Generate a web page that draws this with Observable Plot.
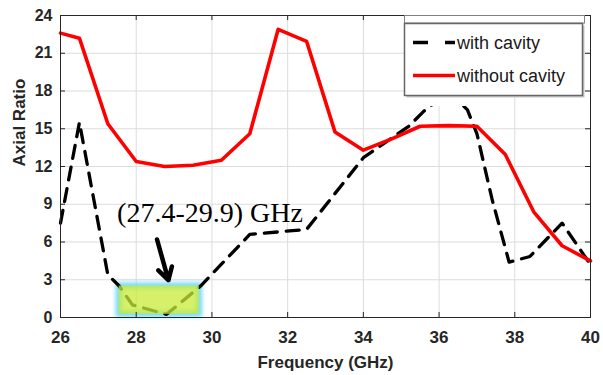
<!DOCTYPE html>
<html><head><meta charset="utf-8">
<script src="https://cdn.jsdelivr.net/npm/d3@7"></script>
<script src="https://cdn.jsdelivr.net/npm/@observablehq/plot@0.6"></script>
<style>body{margin:0;background:#fff}#chart{width:603px;height:375px}</style>
</head><body><div id="chart"></div>
<script>
// ---- data ----
const freqWith = [26.0, 26.5, 27.25, 27.55, 27.9, 28.8, 29.7, 31.0, 32.5, 34.0, 35.2, 35.6, 36.25, 36.75, 37.0, 37.4, 37.85, 38.4, 39.25, 40.0];
const arWith   = [7.5, 15.5, 3.4, 2.5, 1.0, 0.25, 2.5, 6.6, 7.0, 12.7, 15.2, 16.4, 18.0, 16.5, 14.6, 9.4, 4.4, 4.85, 7.5, 4.2];
const freqWithout = [26.0, 26.5, 27.25, 28.0, 28.75, 29.5, 30.25, 31.0, 31.75, 32.5, 33.25, 34.0, 34.75, 35.5, 36.25, 37.0, 37.75, 38.5, 39.25, 40.0];
const arWithout   = [22.6, 22.2, 15.4, 12.4, 12.0, 12.1, 12.5, 14.6, 22.9, 21.95, 14.75, 13.3, 14.2, 15.2, 15.25, 15.2, 12.95, 8.4, 5.7, 4.5];
const seriesNames = ["with cavity", "without cavity"];
const xTicks = [26, 28, 30, 32, 34, 36, 38, 40];
const yTicks = [0, 3, 6, 9, 12, 15, 18, 21, 24];
const bandX = [27.55, 29.67];
const bandY = [0.25, 2.5];
const bandLabel = ["(27.4-29.9) GHz"];
const bandLabelPos = [29.95, 7.6];
const arrowFrom = [28.55, 6.2];
const arrowTo = [28.85, 2.97];
const xLabel = "Frequency (GHz)";
const yLabel = "Axial Ratio";

// ---- tables ----
const withRows = freqWith.map((f, i) => ({f, ar: arWith[i]}));
const withoutRows = freqWithout.map((f, i) => ({f, ar: arWithout[i]}));
const bandRows = [{x1: bandX[0], x2: bandX[1], y1: bandY[0], y2: bandY[1]}];
const labelRows = bandLabel.map(t => ({x: bandLabelPos[0], y: bandLabelPos[1], t}));
const arrowRows = [{x1: arrowFrom[0], y1: arrowFrom[1], x2: arrowTo[0], y2: arrowTo[1]}];

const W = 603, H = 375, mL = 60, mR = 13, mT = 15, mB = 58;
const iw = W - mL - mR, ih = H - mT - mB;
const sans = "'Liberation Sans', Arial, Helvetica, sans-serif";
const axisColor = "#262626";
const bandFill = "#c8eb38";
const glowColor = "#6fd8f6";

const plot = Plot.plot({
  width: W, height: H,
  marginLeft: mL, marginRight: mR, marginTop: mT, marginBottom: mB,
  style: {fontFamily: sans, background: "#fff", color: axisColor},
  x: {domain: [26, 40]},
  y: {domain: [0, 24]},
  marks: [
    Plot.gridX(xTicks, {stroke: "#dcdcdc", strokeOpacity: 1}),
    Plot.gridY(yTicks, {stroke: "#dcdcdc", strokeOpacity: 1}),
    Plot.rect(bandRows, {x1: "x1", x2: "x2", y1: "y1", y2: "y2", fill: "none", stroke: glowColor, strokeWidth: 6}),
    Plot.line(withRows, {x: "f", y: "ar", stroke: "#000", strokeWidth: 3.3, strokeDasharray: "13,9"}),
    Plot.rect(bandRows, {x1: "x1", x2: "x2", y1: "y1", y2: "y2", fill: bandFill, fillOpacity: 0.75}),
    Plot.line(withoutRows, {x: "f", y: "ar", stroke: "#ff0000", strokeWidth: 3.6}),
    Plot.text(labelRows, {x: "x", y: "y", text: "t", fontFamily: "'Liberation Serif','Times New Roman',serif", fontSize: 28, lineAnchor: "bottom", textAnchor: "middle", fill: "#000"}),
    Plot.arrow(arrowRows, {x1: "x1", y1: "y1", x2: "x2", y2: "y2", stroke: "#000", strokeWidth: 4.5, headLength: 15, headAngle: 60}),
    Plot.frame({stroke: axisColor, strokeWidth: 1}),
    Plot.tickY(yTicks, {y: d => d, stroke: axisColor, insetRight: iw - 5}),
    Plot.tickY(yTicks, {y: d => d, stroke: axisColor, insetLeft: iw - 5}),
    Plot.tickX(xTicks, {x: d => d, stroke: axisColor, insetTop: ih - 5}),
    Plot.tickX(xTicks, {x: d => d, stroke: axisColor, insetBottom: ih - 5}),
    Plot.axisY({ticks: yTicks, tickSize: 0, tickPadding: 8, label: null, fontSize: 16, fontWeight: "bold", fill: axisColor}),
    Plot.axisX({ticks: xTicks, tickSize: 0, tickPadding: 13, label: null, fontSize: 17, fontWeight: "bold", fill: axisColor}),
    Plot.text([xLabel], {text: d => d, frameAnchor: "bottom", dy: 50, lineAnchor: "bottom", fontSize: 17, fontWeight: "bold", fill: axisColor}),
    Plot.text([yLabel], {text: d => d, frameAnchor: "left", dx: -41, rotate: -90, lineAnchor: "middle", fontSize: 17, fontWeight: "bold", fill: axisColor})
  ]
});

const svg = d3.select(plot);
// soft cyan glow around the highlighted band
svg.selectAll("g, rect").filter(function () { return this.getAttribute("stroke") === glowColor; })
  .style("filter", "blur(2px)");

// legend (inside the plot, top right)
const lg = svg.append("g").attr("font-family", sans).attr("text-anchor", "start");
lg.append("rect").attr("x", 420).attr("y", 95).attr("width", 48).attr("height", 11).attr("fill", "#fff");
lg.append("rect").attr("x", 404.5).attr("y", 15.5).attr("width", 180).attr("height", 7.5)
  .attr("fill", "#fff").attr("stroke", "#808080").attr("stroke-width", 1);
lg.append("rect").attr("x", 406.5).attr("y", 25.5).attr("width", 178).attr("height", 72)
  .attr("fill", "#c8c8c8");
lg.append("rect").attr("x", 404.5).attr("y", 23.5).attr("width", 178).attr("height", 72)
  .attr("fill", "#fff").attr("stroke", "#666").attr("stroke-width", 1.5);
const styles = [
  {stroke: "#000", dash: "15,17", y: 42.5, w: 3.5},
  {stroke: "#ff0000", dash: null, y: 75.5, w: 3.6}
];
seriesNames.forEach((name, i) => {
  const s = styles[i];
  lg.append("line").attr("x1", 413).attr("x2", 455).attr("y1", s.y).attr("y2", s.y)
    .attr("stroke", s.stroke).attr("stroke-width", s.w).attr("stroke-dasharray", s.dash);
  lg.append("text").attr("x", 457).attr("y", s.y + 6).attr("font-size", 18)
    .attr("text-anchor", "start").attr("fill", "#1a1a1a").text(name);
});

document.getElementById("chart").appendChild(plot);
</script>
</body></html>
